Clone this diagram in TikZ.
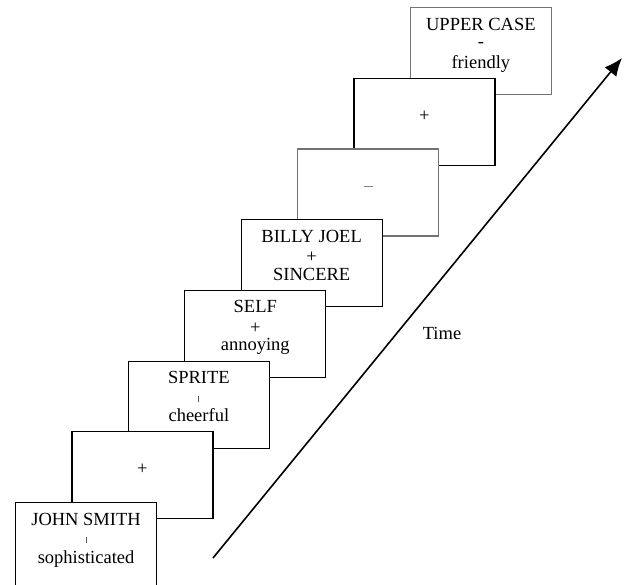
\documentclass[tikz,border=0pt]{standalone}
\usepackage{fontspec}
\setmainfont{Liberation Serif}
\usetikzlibrary{arrows.meta,positioning}

\newcommand{\vtick}{\textcolor{black!65}{\rule{0.8pt}{6pt}}}
\newcommand{\hdash}{\textcolor{black!50}{\rule{9pt}{1pt}}}

\tikzset{
  slide/.style={draw=black,line width=1.1pt,fill=white,
                minimum width=141pt,minimum height=87pt,
                inner sep=0pt,anchor=north west},
  faint/.style={draw=black!55},
  word/.style={font=\fontsize{18.5}{22}\selectfont,inner sep=0pt,anchor=base},
  sign/.style={font=\fontsize{18.5}{22}\selectfont,inner sep=0pt},
}

\begin{document}
\begin{tikzpicture}[x=1pt,y=1pt]
\useasboundingbox (0,0) rectangle (624,584);
\def\dx{56.4}
\def\dy{70.7}
%% Slides, drawn from the last one (back) to the first one (front)
\foreach \i/\sg/\sty in {7/{-}/faint, 6/{+}/{}, 5/{\hdash}/faint,
                         4/{+}/{}, 3/{+}/{}, 2/{\vtick}/{}, 1/{+}/{}, 0/{\vtick}/{}} {
   \node[slide,\sty] (s\i) at ({15+\dx*\i},{82+\dy*\i}) {};
   \node[sign] (s\i-sign) at ([yshift=-38pt]s\i.north) {\sg};
}
%% Words on the slides
\foreach \i/\top/\bot in {7/{UPPER CASE}/friendly, 4/{BILLY JOEL}/SINCERE,
                          3/SELF/annoying, 2/SPRITE/cheerful,
                          0/{JOHN SMITH}/sophisticated} {
   \node[word] (s\i-top) at ([yshift=-23pt]s\i.north) {\top};
   \node[word] (s\i-bot) at ([yshift=-61pt]s\i.north) {\bot};
}
%% Time axis
\coordinate (t0) at (213,26);
\coordinate (t1) at (622,526);
\draw[line width=1.6pt,-{Latex[length=18pt,width=15pt]}] (t0) -- (t1);
\node[word] (time) at (442,244) {Time};
\end{tikzpicture}
\end{document}
